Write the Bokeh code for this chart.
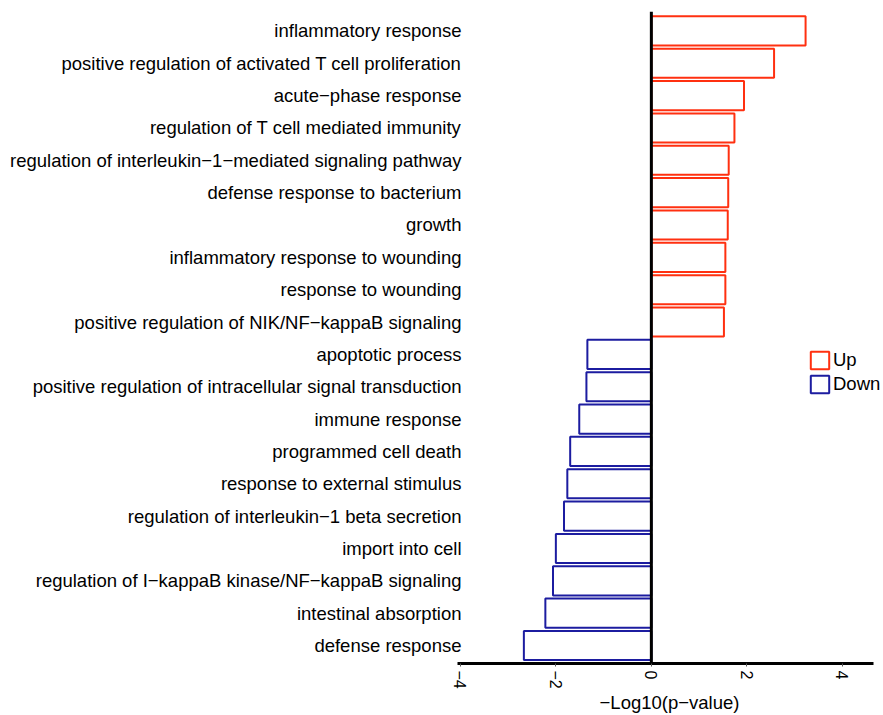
import math
from bokeh.plotting import figure
from bokeh.models import Range1d, FixedTicker, Span, Legend, LegendItem, ColumnDataSource
from bokeh.embed import file_html
from bokeh.resources import INLINE

up_terms = [
    "inflammatory response",
    "positive regulation of activated T cell proliferation",
    "acute\u2212phase response",
    "regulation of T cell mediated immunity",
    "regulation of interleukin\u22121\u2212mediated signaling pathway",
    "defense response to bacterium",
    "growth",
    "inflammatory response to wounding",
    "response to wounding",
    "positive regulation of NIK/NF\u2212kappaB signaling",
]
up_values = [3.23, 2.57, 1.94, 1.74, 1.62, 1.61, 1.60, 1.55, 1.55, 1.52]

down_terms = [
    "apoptotic process",
    "positive regulation of intracellular signal transduction",
    "immune response",
    "programmed cell death",
    "response to external stimulus",
    "regulation of interleukin\u22121 beta secretion",
    "import into cell",
    "regulation of I\u2212kappaB kinase/NF\u2212kappaB signaling",
    "intestinal absorption",
    "defense response",
]
down_values = [-1.34, -1.36, -1.51, -1.70, -1.76, -1.83, -2.00, -2.06, -2.22, -2.67]

x_ticks = [-4, -2, 0, 2, 4]
x_tick_labels = ["\u22124", "\u22122", "0", "2", "4"]
x_title = "\u2212Log10(p\u2212value)"

FONT = "Liberation Sans"
RED = "#FF3010"
BLUE = "#1C1CA0"

terms = up_terms + down_terms
n = len(terms)
positions = [n - i for i in range(n)]
up_pos = positions[:len(up_terms)]
down_pos = positions[len(up_terms):]

p = figure(width=883, height=715, output_backend="svg", toolbar_location=None,
           x_range=Range1d(-4.06, 4.82), y_range=Range1d(0.444, 20.6),
           min_border_left=457, min_border_right=2, min_border_top=11,
           min_border_bottom=50)
p.outline_line_color = None
p.xgrid.visible = False
p.ygrid.visible = False
p.background_fill_color = "white"
p.border_fill_color = "white"

src_up = ColumnDataSource(dict(y=up_pos, right=up_values))
src_dn = ColumnDataSource(dict(y=down_pos, right=down_values))
r_up = p.hbar(y="y", left=0, right="right", height=0.9, source=src_up,
              fill_color="white", line_color=RED, line_width=2)
r_dn = p.hbar(y="y", left=0, right="right", height=0.9, source=src_dn,
              fill_color="white", line_color=BLUE, line_width=2)

p.add_layout(Span(location=0, dimension="height", line_color="black", line_width=3))

# y axis: term labels
p.yaxis.ticker = FixedTicker(ticks=positions)
p.yaxis.major_label_overrides = {pos: t for pos, t in zip(positions, terms)}
p.yaxis.axis_line_color = None
p.yaxis.major_tick_line_color = None
p.yaxis.minor_tick_line_color = None
p.yaxis.major_label_standoff = -10
p.yaxis.major_label_text_font = FONT
p.yaxis.major_label_text_font_size = "18.5px"
p.yaxis.major_label_text_color = "black"

# x axis
p.xaxis.ticker = FixedTicker(ticks=x_ticks)
p.xaxis.bounds = (-4.06, 4.65)
p.xaxis.major_label_overrides = {t: l for t, l in zip(x_ticks, x_tick_labels)}
p.xaxis.axis_line_width = 3
p.xaxis.axis_line_color = "black"
p.xaxis.major_tick_in = 0
p.xaxis.major_tick_out = 3
p.xaxis.major_tick_line_color = "#555555"
p.xaxis.minor_tick_line_color = None
p.xaxis.major_label_orientation = -math.pi / 2
p.xaxis.major_label_standoff = 4
p.xaxis.major_label_text_font = FONT
p.xaxis.major_label_text_font_size = "16px"
p.xaxis.major_label_text_color = "black"
p.xaxis.axis_label = x_title
p.xaxis.axis_label_text_font = FONT
p.xaxis.axis_label_text_font_size = "18.5px"
p.xaxis.axis_label_text_font_style = "normal"
p.xaxis.axis_label_standoff = 0
p.xaxis.axis_label_text_color = "black"

legend = Legend(items=[LegendItem(label="Up", renderers=[r_up]),
                       LegendItem(label="Down", renderers=[r_dn])],
                location=(351, 268), padding=0, margin=0, spacing=2,
                glyph_width=23, glyph_height=22, label_standoff=2,
                label_text_font=FONT, label_text_font_size="18.5px",
                label_text_color="black",
                border_line_color=None, background_fill_alpha=0)
p.add_layout(legend)

open("out.html", "w").write(file_html(p, INLINE))
